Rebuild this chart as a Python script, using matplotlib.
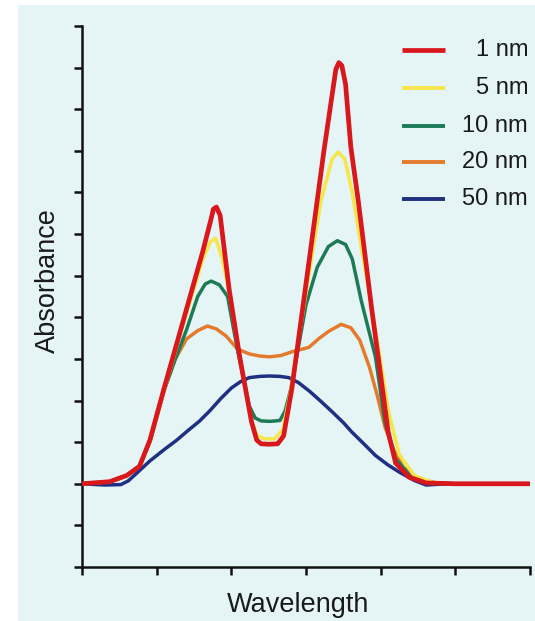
import matplotlib
matplotlib.use("Agg")
import matplotlib.pyplot as plt
from matplotlib.patches import Rectangle

# Spectra of the same sample recorded at different spectral bandwidths
labels = ["1 nm", "5 nm", "10 nm", "20 nm", "50 nm"]
colors = ["#d8181c", "#f6e64a", "#1d7a56", "#e47b2c", "#1f2f82"]

x_1nm = [0, 0.37, 0.6, 0.77, 0.91, 1.10, 1.35, 1.62, 1.72, 1.76, 1.80, 1.85, 1.97, 2.11,
         2.27, 2.34, 2.40, 2.50, 2.62, 2.70, 2.81, 3.01, 3.24, 3.40, 3.44,
         3.48, 3.53, 3.60, 3.70, 3.88, 4.00, 4.10, 4.20, 4.38, 4.61, 5.0, 6.0]
y_1nm = [0, 0.05, 0.2, 0.42, 1.05, 2.3, 3.88, 5.6, 6.3, 6.6, 6.65, 6.45, 4.68, 3.07,
         1.49, 1.05, 0.96, 0.95, 0.96, 1.15, 2.28, 4.94, 8.0, 9.96, 10.12,
         10.05, 9.6, 8.1, 6.8, 4.2, 2.6, 1.25, 0.5, 0.16, 0.02, 0, 0]

x_5nm = [0, 0.37, 0.6, 0.77, 0.91, 1.10, 1.35, 1.62, 1.72, 1.79, 1.88, 1.97, 2.11,
         2.27, 2.35, 2.45, 2.58, 2.69, 2.79, 3.01, 3.20, 3.35, 3.43, 3.52, 3.62,
         3.75, 3.93, 4.11, 4.25, 4.45, 4.70, 5.0, 6.0]
y_5nm = [0, 0.05, 0.2, 0.42, 1.02, 2.25, 3.8, 5.4, 5.82, 5.9, 5.4, 4.6, 3.05,
         1.5, 1.15, 1.08, 1.08, 1.3, 2.2, 4.7, 6.8, 7.8, 7.97, 7.8, 7.0,
         5.6, 3.7, 1.7, 0.7, 0.2, 0.03, 0, 0]

x_10nm = [0, 0.37, 0.6, 0.77, 0.91, 1.10, 1.25, 1.40, 1.55, 1.65, 1.73, 1.84, 1.95,
          2.08, 2.24, 2.32, 2.40, 2.52, 2.65, 2.72, 2.80, 3.00, 3.15, 3.30, 3.42,
          3.53, 3.62, 3.74, 3.93, 4.06, 4.20, 4.40, 4.65, 5.0, 6.0]
y_10nm = [0, 0.05, 0.2, 0.42, 1.02, 2.25, 3.0, 3.7, 4.5, 4.8, 4.87, 4.78, 4.5,
          3.24, 1.87, 1.58, 1.51, 1.5, 1.52, 1.75, 2.3, 4.3, 5.2, 5.7, 5.84,
          5.75, 5.4, 4.4, 3.05, 1.45, 0.6, 0.18, 0.03, 0, 0]

x_20nm = [0, 0.37, 0.6, 0.77, 0.91, 1.10, 1.25, 1.40, 1.55, 1.68, 1.80, 1.93, 2.08,
          2.24, 2.38, 2.51, 2.66, 2.81, 3.04, 3.18, 3.31, 3.47, 3.60, 3.72, 3.85,
          3.95, 4.06, 4.18, 4.30, 4.50, 4.75, 5.0, 6.0]
y_20nm = [0, 0.05, 0.2, 0.42, 1.02, 2.25, 3.0, 3.48, 3.68, 3.79, 3.72, 3.55, 3.24,
          3.12, 3.07, 3.05, 3.08, 3.17, 3.28, 3.5, 3.67, 3.83, 3.75, 3.45, 2.8,
          2.15, 1.35, 0.8, 0.4, 0.12, 0.02, 0, 0]

x_50nm = [0, 0.3, 0.52, 0.62, 0.73, 0.91, 1.10, 1.27, 1.42, 1.57, 1.71, 1.86, 2.00,
          2.12, 2.24, 2.38, 2.51, 2.65, 2.77, 2.90, 3.05, 3.20, 3.35, 3.50, 3.61,
          3.78, 3.93, 4.10, 4.25, 4.45, 4.61, 4.80, 5.0, 6.0]
y_50nm = [0, -0.03, -0.02, 0.07, 0.25, 0.55, 0.82, 1.05, 1.28, 1.5, 1.75, 2.05, 2.3,
          2.45, 2.55, 2.58, 2.59, 2.58, 2.55, 2.43, 2.22, 1.98, 1.73, 1.47, 1.25,
          0.95, 0.68, 0.45, 0.28, 0.08, -0.03, -0.01, 0, 0]

series_x = [x_1nm, x_5nm, x_10nm, x_20nm, x_50nm]
series_y = [y_1nm, y_5nm, y_10nm, y_20nm, y_50nm]
widths = [3.4, 2.5, 2.5, 2.5, 2.5]

xticks = [0, 1, 2, 3, 4, 5, 6]
yticks = list(range(-2, 12))

W, H, DPI = 535, 621, 100
fig = plt.figure(figsize=(W / DPI, H / DPI), dpi=DPI, facecolor="white")
fig.patches.append(Rectangle((18 / W, 0), 1 - 18 / W, 1 - 5 / H,
                             transform=fig.transFigure, facecolor="#e5f5f6",
                             edgecolor="none", zorder=-10))

ax = fig.add_axes([82 / W, 1 - 567 / H, (530 - 82) / W, (567 - 26) / H])
ax.set_facecolor("none")

# draw the widest bandwidth first so the sharpest spectrum sits on top
for i in reversed(range(len(labels))):
    ax.plot(series_x[i], series_y[i], color=colors[i], lw=widths[i],
            solid_capstyle="butt", solid_joinstyle="round", zorder=3 + (4 - i))

ax.set_xlim(0, 6)
ax.set_ylim(-2, 11)
ax.set_xticks(xticks)
ax.set_yticks(yticks)
ax.set_xticklabels([])
ax.set_yticklabels([])
ax.tick_params(direction="out", length=6, width=1.8, color="#111111")
for side in ("top", "right"):
    ax.spines[side].set_visible(False)
for side in ("left", "bottom"):
    ax.spines[side].set_linewidth(1.8)
    ax.spines[side].set_color("#111111")
    ax.spines[side].set_capstyle("projecting")

font = ["Liberation Sans", "DejaVu Sans"]
fig.text(48 / W, 1 - 281 / H, "Absorbance", rotation=90, ha="center", va="center",
         fontsize=19.5, family=font, color="#1a1a1a")
fig.text(298 / W, 1 - 605 / H, "Wavelength", ha="center", va="center",
         fontsize=19.5, family=font, color="#1a1a1a")

# legend: short line sample followed by a right-aligned label
row_y = [49.5, 88, 126, 162, 199]
for i, lab in enumerate(labels):
    yy = 1 - row_y[i] / H
    fig.lines.append(plt.Line2D([402 / W, 445 / W], [yy, yy], transform=fig.transFigure,
                                color=colors[i], lw=3.4 if i == 0 else 2.8,
                                solid_capstyle="butt"))
    fig.text(528 / W, yy, lab, ha="right", va="center", fontsize=17,
             family=font, color="#1a1a1a")

fig.savefig("out.png", dpi=DPI, facecolor=fig.get_facecolor())
